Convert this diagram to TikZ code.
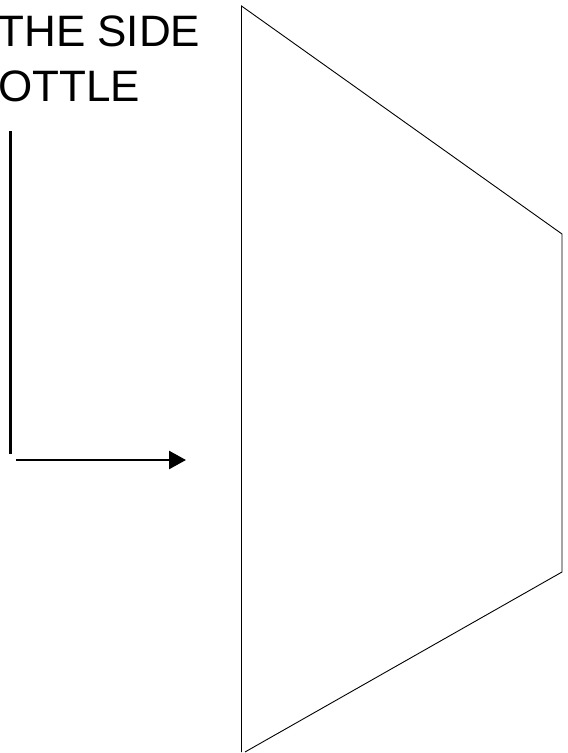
\documentclass[tikz,border=0pt]{standalone}
\usepackage{fontspec}
\setmainfont{Liberation Sans}
\usetikzlibrary{arrows.meta}
\tikzset{
  lbl/.style={inner sep=0pt, font=\fontsize{44}{55}\selectfont},
  thinline/.style={line width=0.9pt, black},
  thickline/.style={line width=2.6pt, black},
}
\begin{document}
\begin{tikzpicture}[x=1pt,y=-1pt]
\useasboundingbox (0,0) rectangle (568,753);
\clip (0,0) rectangle (568,753);
% labels
\node[lbl, anchor=base east] (t1) at (200.5,46.5) {THE SIDE};
\node[lbl, anchor=base east] (t2) at (140.5,101.5) {OTTLE};
% connector
\coordinate (v1) at (10.5,131);
\coordinate (v2) at (10.5,454);
\coordinate (h1) at (16,460);
\coordinate (h2) at (186,460);
\draw[thickline] (v1) -- (v2);
\draw[thickline, -{Triangle[length=17pt,width=18pt]}] (h1) -- (h2);
% trapezoid (bottle side)
\coordinate (p1) at (241.5,6);
\coordinate (p2) at (562,234);
\coordinate (p3) at (562,572);
\coordinate (p4) at (245,752);
\coordinate (p5) at (241.5,752);
\draw[thinline] (p5) -- (p1) -- (p2) -- (p3) -- (p4);
\end{tikzpicture}
\end{document}
